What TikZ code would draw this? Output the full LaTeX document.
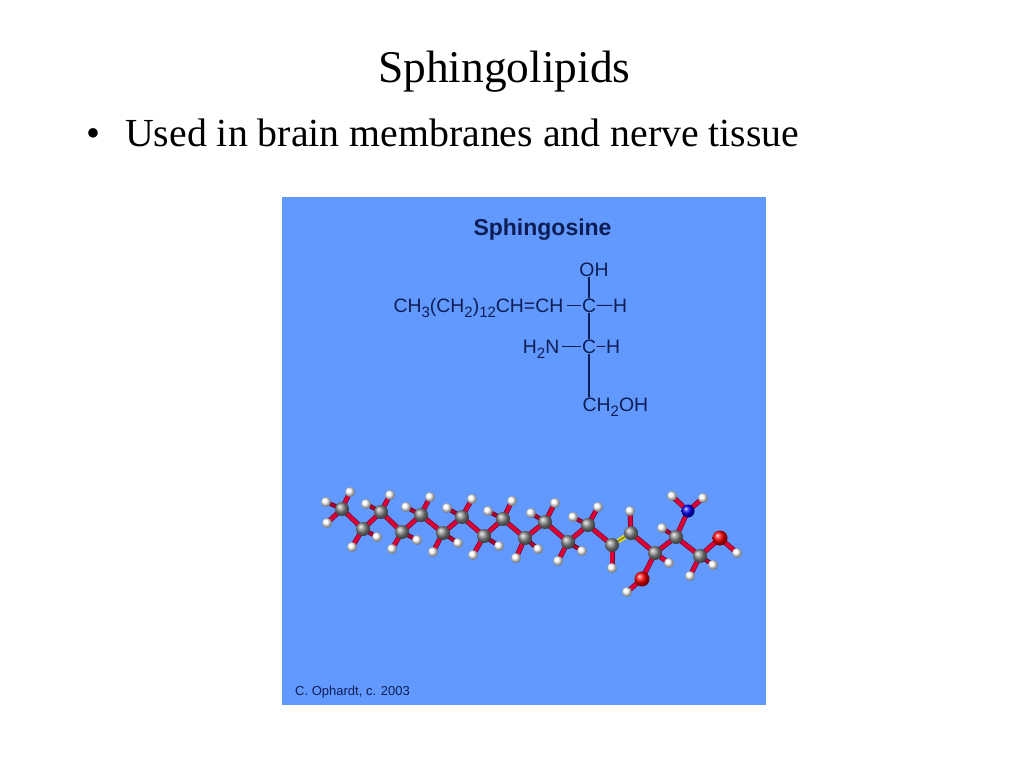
\documentclass[tikz,border=0pt]{standalone}
\usepackage{fontspec}
\setmainfont{Liberation Serif}
\newfontfamily\panelfont{Liberation Sans}
\usetikzlibrary{backgrounds}
\definecolor{panelblue}{RGB}{97,153,255}
\definecolor{inkblue}{RGB}{14,30,84}
\definecolor{bondred}{RGB}{222,0,52}
\definecolor{bonddark}{RGB}{120,0,36}
\newcommand{\lowsub}[1]{\raisebox{-0.28em}{\fontsize{15}{15}\selectfont #1}}
\tikzset{
  slidetext/.style={anchor=base west, inner sep=0, text=black},
  chem/.style={inner sep=0.5pt, text=inkblue, font=\panelfont\fontsize{19.4}{21}\selectfont},
  chemline/.style={draw=inkblue, line width=1.1pt},
  carbon/.style={circle, inner sep=0, minimum size=14pt, shading=ball, ball color=black!45},
  hydrogen/.style={circle, inner sep=0, minimum size=10pt, shading=ball, ball color=white},
  nitrogen/.style={circle, inner sep=0, minimum size=13pt, shading=ball, ball color=blue!95!black},
  oxygen/.style={circle, inner sep=0, minimum size=15pt, shading=ball, ball color=red},
  bond/.style={draw=bonddark, line width=5pt, postaction={draw=bondred, line width=3.6pt}},
  backbond/.style={draw=bonddark, line width=4.4pt, postaction={draw=bondred!60!bonddark, line width=2.2pt}},
  dblbond/.style={draw=yellow!90!black, line width=1.5pt, double=olive, double distance=1.5pt}
}
\begin{document}
\begin{tikzpicture}[x=1pt, y=-1pt]
  \useasboundingbox (0,0) rectangle (1024,768);

  % Slide text
  \node [slidetext, font=\fontsize{45.4}{50}\selectfont] (title) at (378,82) {Sphingolipids};
  \node [slidetext, font=\fontsize{39.8}{44}\selectfont] (dot) at (86,146) {•};
  \node [slidetext, font=\fontsize{39.8}{44}\selectfont] (line) at (125,146) {Used in brain membranes and nerve tissue};

  % Panel
  \begin{scope}[on background layer]
    \fill [panelblue] (282,197) rectangle (766,705);
  \end{scope}
  \node [anchor=base, text=inkblue, inner sep=0, font=\panelfont\bfseries\fontsize{23}{25}\selectfont] (name) at (542.5,235) {Sphingosine};
  \node [anchor=base west, inner sep=0, text=inkblue, font=\panelfont\fontsize{13}{15}\selectfont] (credit) at (295,695) {C. Ophardt, c. 2003};

  % Formula
  \node [chem, anchor=base] (oh) at (594,276) {OH};
  \node [chem, anchor=base east] (chain) at (564,312) {CH\lowsub{3}(CH\lowsub{2})\lowsub{12}CH=CH};
  \node [chem, anchor=base] (c1) at (589,312) {C};
  \node [chem, anchor=base] (h1) at (620,312) {H};
  \node [chem, anchor=base] (c2) at (589,353) {C};
  \node [chem, anchor=base] (h2) at (613,353) {H};
  \node [chem, anchor=base east] (nh) at (560,353) {H\lowsub{2}N};
  \node [chem, anchor=base west] (ch) at (582,411) {CH\lowsub{2}OH};
  \draw [chemline] (oh.south -| c1) -- (c1);
  \draw [chemline, shorten <=3pt] (chain.east |- c1) -- (c1);
  \draw [chemline] (c1) -- (h1);
  \draw [chemline] (c1) -- (c2);
  \draw [chemline, shorten <=2pt] (nh.east |- c2) -- (c2);
  \draw [chemline] (c2) -- (h2);
  \draw [chemline] (c2) -- (c2 |- ch.north);

  % Backbone atoms
  \foreach \atom/\x/\y in {a1/342/509, a2/363/529, a3/381/512, a4/402/532, a5/421/515, a6/443/533,
      a7/462/517, a8/484/536, a9/503/519, a10/525/538, a11/545/522, a12/568/542, a13/588/525,
      a14/612/545, a15/631/533, a16/655/553, a17/676/537, a18/700/556}
    \node [carbon] (\atom) at (\x,\y) {};
  \node [nitrogen] (nit) at (688,511) {};
  \node [oxygen] (oa) at (720,538) {};
  \node [oxygen] (ob) at (642,579) {};

  % Backbone bonds
  \begin{scope}[on background layer]
    \foreach \p/\q in {a1/a2, a2/a3, a3/a4, a4/a5, a5/a6, a6/a7, a7/a8, a8/a9, a9/a10, a10/a11,
        a11/a12, a12/a13, a13/a14, a15/a16, a16/a17, a17/a18, a17/nit, a18/oa, a16/ob}
      \draw [bond] (\p.center) -- (\q.center);
  \end{scope}
  \draw [dblbond] (a14) -- (a15);

  % Front hydrogens
  \foreach \p/\h/\x/\y in {a1/ha/350/492, a1/hb/327/523, a2/hc/352/547, a3/hd/390/495, a4/he/392/549,
      a5/hf/430/497, a6/hg/433/552, a7/hh/472/499, a8/hi/473/555, a9/hj/512/501, a10/hk/516/558,
      a11/hl/555/503, a12/hm/558/561, a13/hn/598/507, a14/ho/612/568, a15/hp/630/511, a16/hq/669/563,
      nit/hr/672/496, nit/hs/703/498, a18/ht/690/576, oa/hu/737/553, ob/hv/627/592} {
    \node [hydrogen] (\h) at (\x,\y) {};
    \begin{scope}[on background layer]
      \draw [bond] (\p.center) -- (\h.center);
    \end{scope}
  }

  % Rear hydrogens
  \foreach \p/\h/\x/\y in {a1/ra/326/502, a2/rb/377/537, a3/rc/366/504, a4/rd/417/540, a5/re/406/507,
      a6/rf/458/543, a7/rg/447/508, a8/rh/499/546, a9/ri/488/511, a10/rj/538/549, a11/rk/531/513,
      a12/rl/582/551, a13/rm/573/517, a17/rn/662/528, a18/ro/713/565} {
    \node [hydrogen] (\h) at (\x,\y) {};
    \begin{scope}[on background layer]
      \draw [backbond] (\p.center) -- (\h.center);
    \end{scope}
  }
\end{tikzpicture}
\end{document}
